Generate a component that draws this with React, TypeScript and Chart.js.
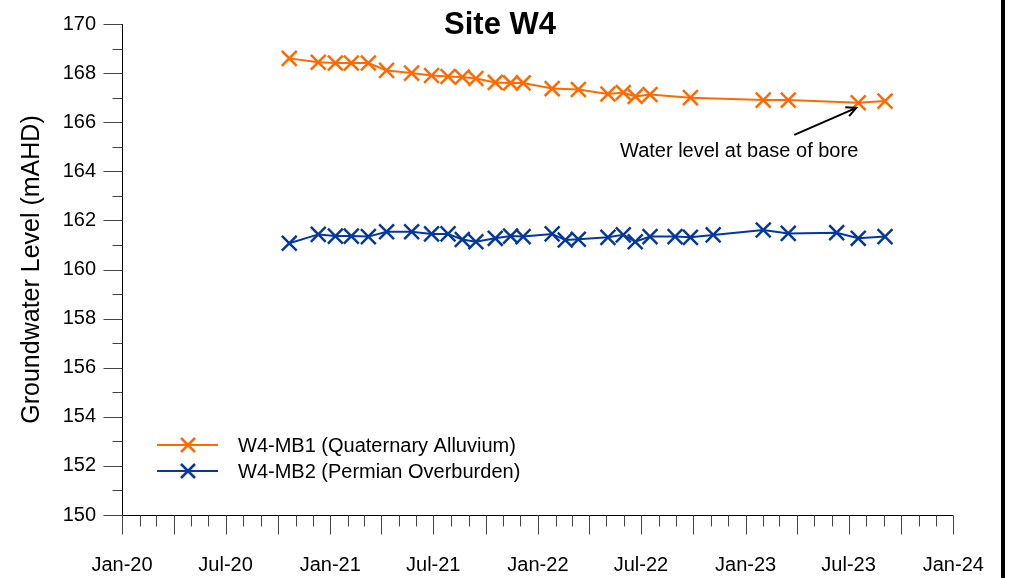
import { useEffect, useRef } from 'react';
import { Chart, registerables } from 'chart.js';

Chart.register(...registerables);

const FONT = "'Liberation Sans', Arial, sans-serif";

const mb1Dates = [
  '2020-10-21', '2020-12-11', '2021-01-10', '2021-02-07', '2021-03-09', '2021-04-10',
  '2021-05-24', '2021-06-28', '2021-07-27', '2021-08-21', '2021-09-14', '2021-10-18',
  '2021-11-14', '2021-12-06', '2022-01-26', '2022-03-13', '2022-05-04', '2022-05-31',
  '2022-06-21', '2022-07-17', '2022-09-26', '2023-02-01', '2023-03-17', '2023-07-18',
  '2023-09-03',
];
const mb1Levels = [
  168.6, 168.44, 168.41, 168.41, 168.41, 168.11, 168.0, 167.9, 167.86, 167.84, 167.78, 167.62,
  167.6, 167.6, 167.37, 167.33, 167.15, 167.21, 167.05, 167.13, 167.0, 166.9, 166.9, 166.79,
  166.86,
];

const mb2Dates = [
  '2020-10-21', '2020-12-11', '2021-01-10', '2021-02-07', '2021-03-09', '2021-04-10',
  '2021-05-24', '2021-06-28', '2021-07-27', '2021-08-21', '2021-09-14', '2021-10-18',
  '2021-11-14', '2021-12-06', '2022-01-26', '2022-02-18', '2022-03-13', '2022-05-04',
  '2022-05-31', '2022-06-21', '2022-07-17', '2022-08-30', '2022-09-26', '2022-11-05',
  '2023-02-01', '2023-03-17', '2023-06-10', '2023-07-18', '2023-09-03',
];
const mb2Levels = [
  161.07, 161.43, 161.36, 161.36, 161.34, 161.54, 161.54, 161.45, 161.45, 161.22, 161.13, 161.27,
  161.36, 161.34, 161.45, 161.2, 161.23, 161.31, 161.41, 161.13, 161.34, 161.34, 161.31, 161.41,
  161.61, 161.47, 161.5, 161.27, 161.34,
];

const seriesNames = ['W4-MB1 (Quaternary Alluvium)', 'W4-MB2 (Permian Overburden)'];
const seriesColors = ['#ff6a00', '#06389c'];

const xTickDates = [
  '2020-01-01', '2020-07-01', '2021-01-01', '2021-07-01', '2022-01-01',
  '2022-07-01', '2023-01-01', '2023-07-01', '2024-01-01',
];
const xTickLabels = ['Jan-20', 'Jul-20', 'Jan-21', 'Jul-21', 'Jan-22', 'Jul-22', 'Jan-23', 'Jul-23', 'Jan-24'];

const yMin = 150;
const yMax = 170;
const yStep = 2;

const chartTitle = 'Site W4';
const yTitle = 'Groundwater Level (mAHD)';
const noteText = 'Water level at base of bore';
const noteDate = '2023-07-18';
const noteLevel = 166.79;

const ORIGIN = Date.UTC(2020, 0, 1);
function toDay(s: string): number {
  const [y, m, d] = s.split('-').map(Number);
  return (Date.UTC(y, m - 1, d) - ORIGIN) / 86400000;
}

const zeroPad = (s: any) => {
  s.paddingTop = 0;
  s.paddingBottom = 0;
  s.paddingLeft = 0;
  s.paddingRight = 0;
};

const decorPlugin = {
  id: 'decor',
  afterDraw(chart: any) {
    const ctx: CanvasRenderingContext2D = chart.ctx;
    const xs = chart.scales.x;
    const ys = chart.scales.y;
    ctx.save();

    // axes lines
    ctx.strokeStyle = '#000';
    ctx.lineWidth = 1;
    const axX = Math.round(xs.left) + 0.5;
    const axY = Math.round(ys.bottom) + 0.5;
    ctx.beginPath();
    ctx.moveTo(axX, ys.top);
    ctx.lineTo(axX, axY);
    ctx.moveTo(axX, axY);
    ctx.lineTo(xs.right, axY);
    ctx.stroke();

    // y ticks
    ctx.strokeStyle = '#444';
    ctx.beginPath();
    for (let v = yMin; v <= yMax; v += 1) {
      const y = Math.round(ys.getPixelForValue(v)) + 0.5;
      const len = (v - yMin) % 2 === 0 ? 19 : 10;
      ctx.moveTo(axX - len, y);
      ctx.lineTo(axX, y);
    }
    ctx.stroke();

    // x ticks (monthly, quarterly long)
    ctx.beginPath();
    for (let i = 0; i <= 48; i++) {
      const yr = 2020 + Math.floor(i / 12);
      const mo = i % 12;
      const day = (Date.UTC(yr, mo, 1) - ORIGIN) / 86400000;
      const x = Math.round(xs.getPixelForValue(day)) + 0.5;
      const len = mo % 3 === 0 ? 19 : 11;
      ctx.moveTo(x, axY);
      ctx.lineTo(x, axY + len);
    }
    ctx.stroke();

    // title
    ctx.fillStyle = '#000';
    ctx.font = `bold 31px ${FONT}`;
    ctx.textAlign = 'center';
    ctx.textBaseline = 'middle';
    ctx.fillText(chartTitle, 500, 25);

    // legend
    ctx.font = `20px ${FONT}`;
    ctx.textAlign = 'left';
    const legendY = [445, 471];
    for (let i = 0; i < 2; i++) {
      const y = legendY[i];
      ctx.strokeStyle = seriesColors[i];
      ctx.lineWidth = 2;
      ctx.beginPath();
      ctx.moveTo(157, y);
      ctx.lineTo(218, y);
      ctx.stroke();
      ctx.lineWidth = 2.5;
      const r = 7;
      ctx.beginPath();
      ctx.moveTo(188 - r, y - r);
      ctx.lineTo(188 + r, y + r);
      ctx.moveTo(188 + r, y - r);
      ctx.lineTo(188 - r, y + r);
      ctx.stroke();
      ctx.fillStyle = '#000';
      ctx.fillText(seriesNames[i], 238, y + 1);
    }

    // annotation
    const px = xs.getPixelForValue(toDay(noteDate));
    const py = ys.getPixelForValue(noteLevel);
    const tipX = px - 2;
    const tipY = py + 5;
    const tailX = px - 64;
    const tailY = py + 32;
    ctx.strokeStyle = '#000';
    ctx.lineWidth = 2;
    ctx.beginPath();
    ctx.moveTo(tailX, tailY);
    ctx.lineTo(tipX, tipY);
    const ang = Math.atan2(tipY - tailY, tipX - tailX);
    const hl = 11;
    ctx.moveTo(tipX - hl * Math.cos(ang - 0.45), tipY - hl * Math.sin(ang - 0.45));
    ctx.lineTo(tipX, tipY);
    ctx.lineTo(tipX - hl * Math.cos(ang + 0.45), tipY - hl * Math.sin(ang + 0.45));
    ctx.stroke();
    ctx.fillStyle = '#000';
    ctx.font = `20px ${FONT}`;
    ctx.textAlign = 'left';
    ctx.fillText(noteText, 620, 151);

    // right border
    ctx.fillStyle = '#000';
    ctx.fillRect(1001, 0, 4, chart.height);
    ctx.restore();
  },
};

export default function App() {
  const ref = useRef<HTMLCanvasElement>(null);

  useEffect(() => {
    if (!ref.current) return;
    const mk = (dates: string[], vals: number[]) => dates.map((d, i) => ({ x: toDay(d), y: vals[i] }));
    const datasets = [mk(mb1Dates, mb1Levels), mk(mb2Dates, mb2Levels)].map((data, i) => ({
      label: seriesNames[i],
      data,
      borderColor: seriesColors[i],
      backgroundColor: seriesColors[i],
      borderWidth: 2,
      pointStyle: 'crossRot' as const,
      pointRadius: 10.5,
      pointBorderWidth: 2.5,
      pointBorderColor: seriesColors[i],
      tension: 0,
      fill: false,
    }));
    const xTickDays = xTickDates.map(toDay);
    const chart = new Chart(ref.current, {
      type: 'line',
      data: { datasets },
      options: {
        animation: false,
        responsive: false,
        devicePixelRatio: 1,
        layout: { padding: { top: 24, right: 55.7, left: 0, bottom: 0 } },
        plugins: {
          legend: { display: false },
          tooltip: { enabled: false },
          title: { display: false },
        },
        scales: {
          x: {
            type: 'linear',
            min: 0,
            max: toDay('2024-01-01'),
            afterBuildTicks: (s: any) => {
              s.ticks = xTickDays.map((v) => ({ value: v }));
            },
            afterFit: (s: any) => {
              s.height = 63;
              zeroPad(s);
            },
            ticks: {
              autoSkip: false,
              maxRotation: 0,
              padding: 38,
              color: '#000',
              font: { size: 20, family: FONT },
              callback: (_v: any, i: number) => xTickLabels[i],
            },
            grid: { display: false, drawTicks: false },
            border: { display: false },
          },
          y: {
            min: yMin,
            max: yMax,
            afterFit: (s: any) => {
              s.width = 122;
              zeroPad(s);
            },
            ticks: {
              stepSize: yStep,
              padding: 26,
              color: '#000',
              font: { size: 20, family: FONT },
            },
            grid: { display: false, drawTicks: false },
            border: { display: false },
            title: {
              display: true,
              text: yTitle,
              color: '#000',
              font: { size: 25, family: FONT },
              padding: { top: 17, bottom: 0 },
            },
          },
        },
      },
      plugins: [decorPlugin],
    });
    return () => chart.destroy();
  }, []);

  return (
    <div style={{ position: 'fixed', left: 0, top: 0, width: 1009, height: 578, background: '#fff' }}>
      <canvas ref={ref} width={1009} height={578} style={{ display: 'block' }} />
    </div>
  );
}
